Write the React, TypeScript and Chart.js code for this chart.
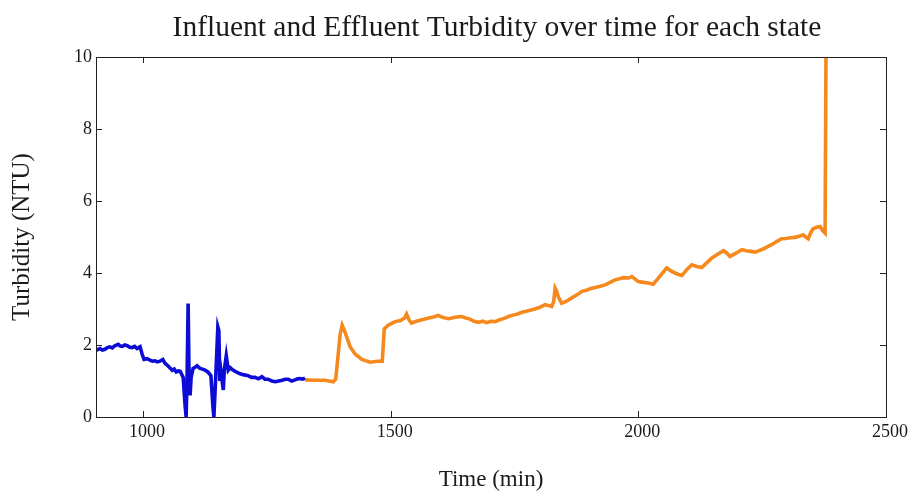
import React, { useEffect, useRef } from "react";
import { Chart, registerables } from "chart.js";

Chart.register(...registerables);

const titleText = "Influent and Effluent Turbidity over time for each state";
const xAxisTitle = "Time (min)";
const yAxisTitle = "Turbidity (NTU)";
const xTickValues = [1000, 1500, 2000, 2500];
const yTickValues = [0, 2, 4, 6, 8, 10];

const blueTime = [
  905, 913, 918, 923, 928, 933, 938, 943, 950, 954, 958, 963, 968, 973, 978,
  983, 988, 994, 998, 1002, 1008, 1014, 1019, 1024, 1029, 1034, 1040, 1044,
  1048, 1053, 1059, 1063, 1067, 1071, 1075, 1081, 1085, 1087, 1089, 1091, 1093,
  1095, 1097, 1101, 1105, 1109, 1115, 1120, 1125, 1131, 1137, 1141, 1143, 1147,
  1151, 1153, 1155, 1157, 1162, 1164, 1168, 1172, 1176, 1180, 1188, 1196, 1204,
  1212, 1219, 1226, 1233, 1240, 1246, 1252, 1260, 1267, 1274, 1281, 1287, 1293,
  1300, 1307, 1312, 1317, 1322, 1327,
];
const blueTurbidity = [
  1.85, 1.9, 1.86, 1.88, 1.93, 1.95, 1.92, 1.98, 2.02, 1.97, 1.96, 2.0, 1.98,
  1.94, 1.93, 1.96, 1.9, 1.95, 1.75, 1.6, 1.62, 1.58, 1.55, 1.56, 1.53, 1.55,
  1.6, 1.5, 1.45, 1.38, 1.3, 1.33, 1.25, 1.28, 1.27, 1.1, 0.3, 0.0, 1.2, 3.15,
  1.0, 0.6, 1.1, 1.35, 1.38, 1.42, 1.35, 1.33, 1.3, 1.25, 1.15, 0.3, 0.0, 1.2,
  2.5, 2.4, 1.0, 1.3, 0.75, 1.3, 1.7, 1.3, 1.37, 1.32, 1.25, 1.2, 1.17, 1.15,
  1.1, 1.1, 1.06, 1.12, 1.05, 1.05, 1.0, 0.98, 1.0, 1.02, 1.05, 1.05, 1.0, 1.03,
  1.06, 1.07, 1.05, 1.08,
];

const orangeTime = [
  1327, 1347, 1367, 1384, 1389, 1398, 1402, 1408, 1418, 1428, 1442, 1458, 1474,
  1483, 1487, 1495, 1502, 1509, 1520, 1528, 1532, 1537, 1542, 1552, 1563, 1575,
  1586, 1596, 1606, 1617, 1630, 1643, 1652, 1660, 1668, 1677, 1686, 1694, 1702,
  1711, 1720, 1729, 1738, 1747, 1756, 1765, 1774, 1783, 1791, 1800, 1806, 1812,
  1818, 1825, 1829, 1832, 1835, 1838, 1845, 1852, 1859, 1868, 1877, 1886, 1895,
  1904, 1913, 1923, 1933, 1943, 1953, 1962, 1970, 1980, 1987, 2000, 2010, 2020,
  2030, 2040, 2050, 2057, 2066, 2074, 2081, 2088, 2098, 2108, 2118, 2128, 2138,
  2148, 2160, 2172, 2179, 2185, 2197, 2209, 2218, 2227, 2236, 2245, 2254, 2262,
  2271, 2280, 2289, 2298, 2307, 2316, 2325, 2333, 2338, 2343, 2348, 2353, 2360,
  2367, 2372, 2377, 2379,
];
const orangeTurbidity = [
  1.03, 1.02, 1.02, 0.98, 1.05, 2.3, 2.55, 2.35, 1.95, 1.75, 1.6, 1.52, 1.55,
  1.55, 2.45, 2.55, 2.6, 2.65, 2.68, 2.75, 2.86, 2.7, 2.61, 2.66, 2.7, 2.74,
  2.78, 2.82, 2.76, 2.73, 2.77, 2.79, 2.75, 2.72, 2.66, 2.63, 2.66, 2.62, 2.66,
  2.65, 2.7, 2.74, 2.79, 2.83, 2.86, 2.91, 2.94, 2.97, 3.0, 3.04, 3.08, 3.12,
  3.1, 3.07, 3.2, 3.58, 3.5, 3.35, 3.16, 3.2, 3.25, 3.33, 3.4, 3.49, 3.52, 3.57,
  3.6, 3.63, 3.67, 3.74, 3.81, 3.84, 3.87, 3.86, 3.9, 3.76, 3.74, 3.72, 3.69,
  3.85, 4.02, 4.14, 4.06, 4.0, 3.96, 3.93, 4.1, 4.23, 4.18, 4.15, 4.28, 4.41,
  4.52, 4.62, 4.55, 4.46, 4.55, 4.65, 4.62, 4.6, 4.58, 4.63, 4.68, 4.74, 4.8,
  4.88, 4.95, 4.96, 4.98, 4.99, 5.02, 5.06, 5.0, 4.95, 5.12, 5.23, 5.27, 5.29,
  5.18, 5.11, 10.5,
];

const SERIF = "'Liberation Serif', 'DejaVu Serif', serif";
const TEXT = "#1a1a1a";

const framePlugin = {
  id: "matlabFrame",
  afterDraw(chart: any) {
    const { ctx, chartArea } = chart;
    const { left, right, top, bottom } = chartArea;
    const xs = chart.scales.x;
    const ys = chart.scales.y;
    ctx.save();
    ctx.strokeStyle = "#222";
    ctx.lineWidth = 1;
    ctx.strokeRect(Math.round(left) + 0.5, Math.round(top) + 0.5, Math.round(right - left), Math.round(bottom - top));
    const tl = 6;
    ctx.beginPath();
    xTickValues.forEach((v) => {
      const px = Math.round(xs.getPixelForValue(v)) + 0.5;
      ctx.moveTo(px, bottom);
      ctx.lineTo(px, bottom - tl);
      ctx.moveTo(px, top);
      ctx.lineTo(px, top + tl);
    });
    yTickValues.forEach((v) => {
      const py = Math.round(ys.getPixelForValue(v)) + 0.5;
      ctx.moveTo(left, py);
      ctx.lineTo(left + tl, py);
      ctx.moveTo(right, py);
      ctx.lineTo(right - tl, py);
    });
    ctx.stroke();
    ctx.fillStyle = TEXT;
    ctx.font = `29.5px ${SERIF}`;
    ctx.textAlign = "center";
    ctx.textBaseline = "alphabetic";
    ctx.fillText(titleText, 497, 36);
    ctx.restore();
  },
};

export default function App() {
  const ref = useRef<HTMLCanvasElement | null>(null);
  useEffect(() => {
    if (!ref.current) return;
    const chart = new Chart(ref.current, {
      type: "line",
      data: {
        datasets: [
          {
            label: "State 1",
            data: blueTime.map((t, i) => ({ x: t, y: blueTurbidity[i] })),
            borderColor: "#0c0cd6",
            borderWidth: 3.6,
            pointRadius: 0,
            tension: 0,
          },
          {
            label: "State 2",
            data: orangeTime.map((t, i) => ({ x: t, y: orangeTurbidity[i] })),
            borderColor: "#f5891e",
            borderWidth: 3.6,
            pointRadius: 0,
            tension: 0,
          },
        ],
      },
      options: {
        animation: false,
        responsive: true,
        maintainAspectRatio: false,
        layout: { padding: { top: 57, right: 23, left: 0, bottom: 0 } },
        plugins: { legend: { display: false }, tooltip: { enabled: false }, title: { display: false } },
        scales: {
          x: {
            type: "linear",
            min: 905,
            max: 2500,
            afterBuildTicks: (s: any) => {
              s.ticks = xTickValues.map((v) => ({ value: v }));
            },
            afterFit: (s: any) => {
              s.height = 77;
            },
            grid: { display: false, drawTicks: false },
            border: { display: false },
            ticks: {
              font: { family: SERIF, size: 18 },
              color: TEXT,
              padding: 4,
              labelOffset: 4,
              maxRotation: 0,
              callback: (v: any) => String(v),
            },
            title: {
              display: true,
              text: xAxisTitle,
              font: { family: SERIF, size: 23 },
              color: TEXT,
              padding: { top: 0, bottom: 0 },
            },
          },
          y: {
            type: "linear",
            min: 0,
            max: 10,
            afterBuildTicks: (s: any) => {
              s.ticks = yTickValues.map((v) => ({ value: v }));
            },
            afterFit: (s: any) => {
              s.width = 96;
            },
            grid: { display: false, drawTicks: false },
            border: { display: false },
            ticks: {
              font: { family: SERIF, size: 18 },
              color: TEXT,
              padding: 4,
              callback: (v: any) => String(v),
            },
            title: {
              display: true,
              text: yAxisTitle,
              font: { family: SERIF, size: 25 },
              color: TEXT,
              padding: { top: 7, bottom: 0 },
            },
          },
        },
      },
      plugins: [framePlugin],
    });
    return () => chart.destroy();
  }, []);
  return (
    <div style={{ position: "fixed", left: 0, top: 0, width: 909, height: 494, background: "#fff" }}>
      <canvas ref={ref} />
    </div>
  );
}
